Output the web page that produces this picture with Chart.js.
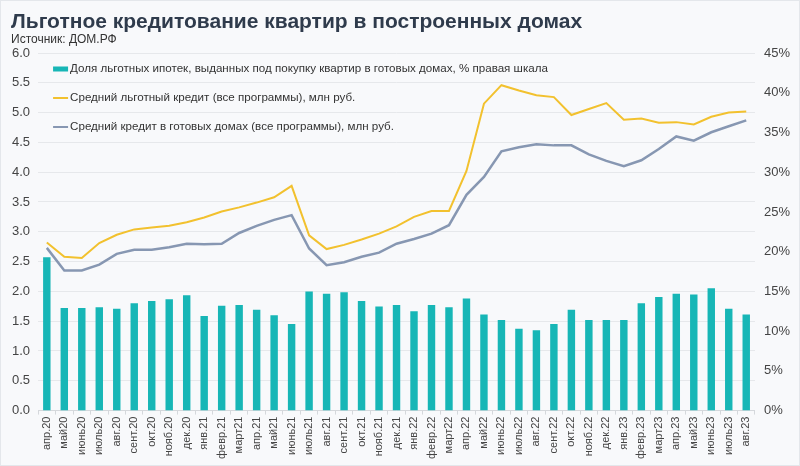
<!DOCTYPE html>
<html>
<head>
<meta charset="utf-8">
<script src="https://cdn.jsdelivr.net/npm/chart.js@4"></script>
<style>
  html, body { margin: 0; padding: 0; background: #f8f9fb; }
  .card { width: 798px; height: 464px; border: 1px solid #e4e7eb; background: #f8f9fb; }
</style>
</head>
<body>
<div class="card"><canvas id="chart" width="798" height="464"></canvas></div>
<script>
// Месяцы
const MONTHS = [
    'апр.20','май20','июнь20','июль20','авг.20','сент.20','окт.20','нояб.20','дек.20',
    'янв.21','февр.21','март21','апр.21','май21','июнь21','июль21','авг.21','сент.21','окт.21','нояб.21','дек.21',
    'янв.22','февр.22','март22','апр.22','май22','июнь22','июль22','авг.22','сент.22','окт.22','нояб.22','дек.22',
    'янв.23','февр.23','март23','апр.23','май23','июнь23','июль23','авг.23'
];

// Доля льготных ипотек в готовых домах, % (правая шкала)
const SHARE = [
    19.3, 12.9, 12.9, 13.0, 12.8, 13.5, 13.8, 14.0, 14.5,
    11.9, 13.2, 13.3, 12.7, 12.0, 10.9, 15.0, 14.7, 14.9, 13.8, 13.1, 13.3,
    12.5, 13.3, 13.0, 14.1, 12.1, 11.4, 10.3, 10.1, 10.9, 12.7, 11.4, 11.4,
    11.4, 13.5, 14.3, 14.7, 14.6, 15.4, 12.8, 12.1
];

// Средний льготный кредит, млн руб.
const SOFT_LOAN = [
    2.82, 2.58, 2.56, 2.81, 2.95, 3.04, 3.07, 3.10, 3.16,
    3.24, 3.34, 3.41, 3.49, 3.58, 3.77, 2.94, 2.71, 2.78, 2.87, 2.97, 3.09,
    3.25, 3.35, 3.35, 4.02, 5.15, 5.46, 5.37, 5.29, 5.26, 4.96, 5.06, 5.16,
    4.88, 4.90, 4.83, 4.84, 4.80, 4.93, 5.00, 5.02
];

// Средний кредит в готовых домах, млн руб.
const READY_LOAN = [
    2.73, 2.35, 2.35, 2.45, 2.63, 2.70, 2.70, 2.74, 2.80,
    2.79, 2.80, 2.98, 3.10, 3.20, 3.28, 2.72, 2.44, 2.49, 2.58, 2.65, 2.80,
    2.88, 2.97, 3.11, 3.62, 3.92, 4.35, 4.42, 4.47, 4.45, 4.45, 4.30, 4.19,
    4.10, 4.20, 4.39, 4.60, 4.53, 4.67, 4.77, 4.87
];

const TITLE    = 'Льготное кредитование квартир в построенных домах';
const SUBTITLE = 'Источник: ДОМ.РФ';

const TEAL   = '#17b6b6';
const YELLOW = '#f2c12e';
const GREY   = '#8797b2';
const FONT   = "'Liberation Sans', Arial, sans-serif";

Chart.defaults.font.family = FONT;
Chart.defaults.color = '#444';

/* ── title + source, left-aligned with the axis labels ── */
const header = {
    id: 'header',
    afterDraw(chart) {
        const { ctx } = chart;
        ctx.save();
        ctx.textBaseline = 'alphabetic';
        ctx.fillStyle = '#2f3b4c';
        ctx.font = 'bold 21px ' + FONT;
        ctx.fillText(TITLE, 10, 27);
        ctx.fillStyle = '#333';
        ctx.font = '12px ' + FONT;
        ctx.fillText(SUBTITLE, 10, 42);
        ctx.restore();
    }
};

/* ── legend drawn inside the plot, one item per row ── */
const innerLegend = {
    id: 'innerLegend',
    afterDraw(chart) {
        const { ctx, chartArea } = chart;
        const x0 = chartArea.left + 15;
        let y = chartArea.top + 16;
        ctx.save();
        ctx.font = '11.6px ' + FONT;
        ctx.textBaseline = 'middle';
        chart.data.datasets.forEach(ds => {
            if (ds.type === 'bar') {
                ctx.fillStyle = ds.backgroundColor;
                ctx.fillRect(x0, y - 2.5, 15, 5);
            } else {
                ctx.strokeStyle = ds.borderColor;
                ctx.lineWidth = 2;
                ctx.beginPath();
                ctx.moveTo(x0, y);
                ctx.lineTo(x0 + 15, y);
                ctx.stroke();
            }
            ctx.fillStyle = '#333';
            ctx.fillText(ds.label, x0 + 17, y);
            y += 29;
        });
        ctx.restore();
    }
};

new Chart(document.getElementById('chart'), {
    data: {
        labels: MONTHS,
        datasets: [
            {
                type: 'bar',
                label: 'Доля льготных ипотек, выданных под покупку квартир в готовых домах, % правая шкала',
                data: SHARE,
                yAxisID: 'yR',
                backgroundColor: TEAL,
                barPercentage: 0.85,
                categoryPercentage: 0.5,
                order: 3
            },
            {
                type: 'line',
                label: 'Средний льготный кредит (все программы), млн руб.',
                data: SOFT_LOAN,
                yAxisID: 'yL',
                borderColor: YELLOW,
                borderWidth: 2,
                pointRadius: 0,
                tension: 0,
                order: 1
            },
            {
                type: 'line',
                label: 'Средний кредит в готовых домах (все программы), млн руб.',
                data: READY_LOAN,
                yAxisID: 'yL',
                borderColor: GREY,
                borderWidth: 2.5,
                pointRadius: 0,
                tension: 0,
                order: 2
            }
        ]
    },
    options: {
        responsive: false,
        animation: false,
        layout: { padding: { left: 3, right: 0, top: 52, bottom: 4 } },
        plugins: {
            legend: { display: false },
            tooltip: { enabled: false }
        },
        scales: {
            x: {
                grid: { display: true, drawOnChartArea: false, drawTicks: true, tickLength: 4, color: '#d5d8dc' },
                border: { display: true, color: '#d5d8dc' },
                ticks: { minRotation: 90, maxRotation: 90, autoSkip: false, font: { size: 11 }, padding: 2 }
            },
            yL: {
                position: 'left',
                min: 0, max: 6,
                ticks: { stepSize: 0.5, font: { size: 13 }, padding: 8, callback: v => v.toFixed(1) },
                grid: { color: '#e6e8eb', drawTicks: false },
                border: { display: false }
            },
            yR: {
                position: 'right',
                min: 0, max: 45,
                ticks: { stepSize: 5, font: { size: 13 }, padding: 9, callback: v => v + '%' },
                grid: { display: false, drawTicks: false },
                border: { display: false }
            }
        }
    },
    plugins: [header, innerLegend]
});
</script>
</body>
</html>
